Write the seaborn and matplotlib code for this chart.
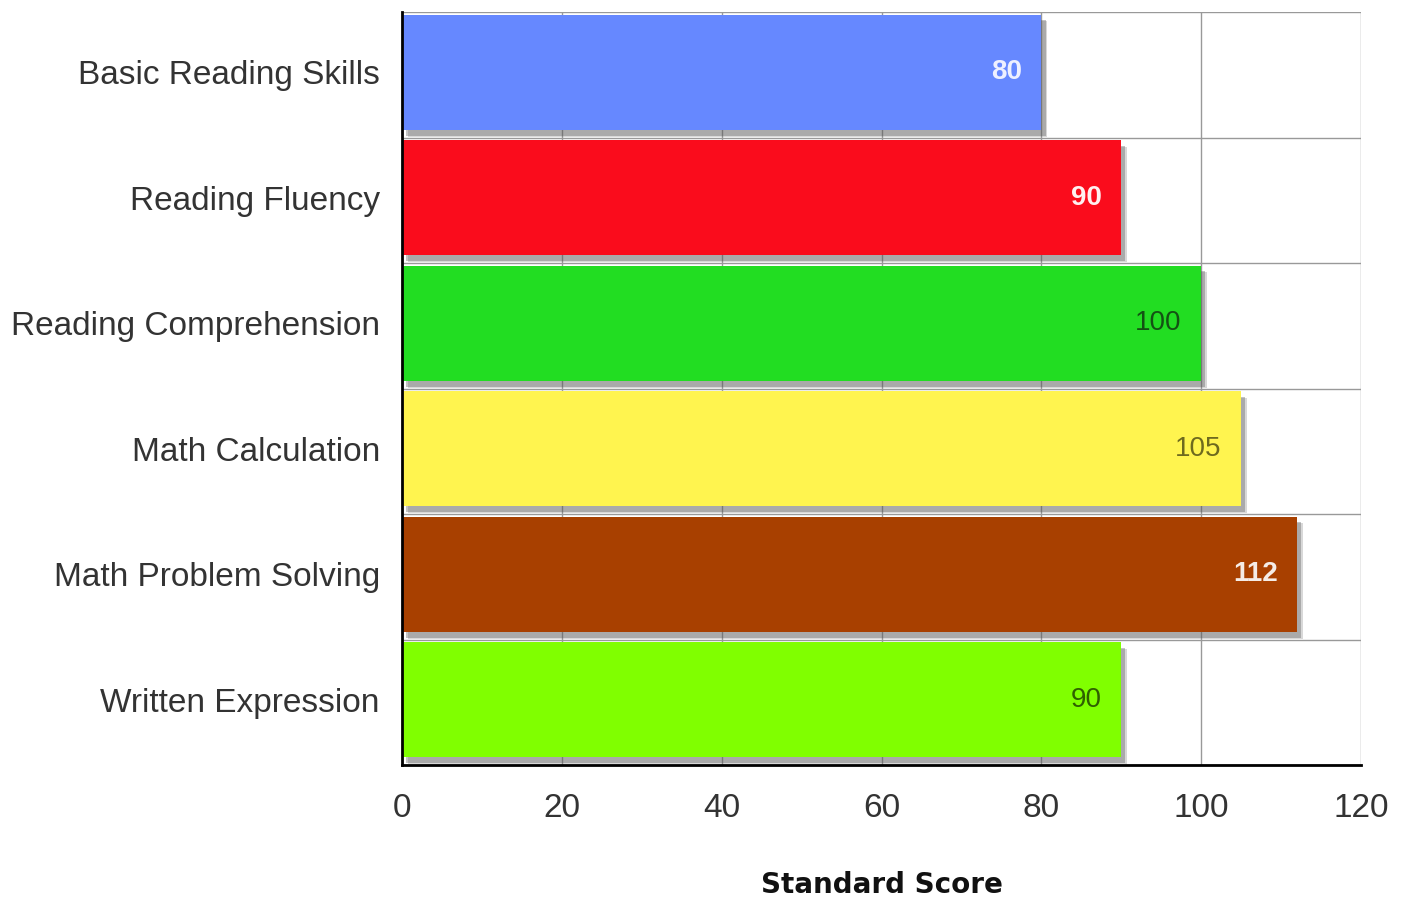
import pandas as pd
import matplotlib
matplotlib.use('Agg')
import matplotlib.pyplot as plt
import matplotlib.patheffects as pe
import seaborn as sns

# Chart data
categories = ['Basic Reading Skills', 'Reading Fluency', 'Reading Comprehension',
              'Math Calculation', 'Math Problem Solving', 'Written Expression']
scores = [80, 90, 100, 105, 112, 90]
bar_colors = ['#6688ff', '#fa0c1c', '#22dd22', '#fff44f', '#a84000', '#80ff00']
label_colors = ['#eef0ff', '#fff0f0', '#145214', '#6e6a1e', '#f5ece6', '#2f5f00']
label_bold = [True, True, False, False, True, False]
x_ticks = [0, 20, 40, 60, 80, 100, 120]

df = pd.DataFrame({'area': categories, 'score': scores})

sns.set_style('white')
plt.rcParams['font.family'] = ['Liberation Sans', 'DejaVu Sans']

fig = plt.figure(figsize=(14.08, 8.99), dpi=100)
ax = fig.add_axes([402 / 1408, 1 - 765 / 899, (1361 - 402) / 1408, (765 - 12) / 899])

sns.barplot(data=df, y='area', x='score', hue='area', palette=bar_colors,
            legend=False, width=0.92, saturation=1, ax=ax, zorder=3)

# soft drop shadow under each bar
for p in ax.patches:
    p.set_linewidth(0)
    p.set_path_effects([pe.SimplePatchShadow(offset=(4, -5), shadow_rgbFace='#666666', alpha=0.25),
                        pe.SimplePatchShadow(offset=(3, -4), shadow_rgbFace='#555555', alpha=0.35),
                        pe.Normal()])

for i, (v, c, b) in enumerate(zip(scores, label_colors, label_bold)):
    ax.annotate(f'{v}', (v, i), xytext=(-14, 0), textcoords='offset points',
                ha='right', va='center', fontsize=20, color=c,
                fontweight='bold' if b else 'normal', zorder=5)

# bars sit slightly above the middle of each band
shift = 0.02
ax.set_xlim(0, 120)
ax.set_ylim(5.5 + shift, -0.5 + shift)
ax.set_xticks(x_ticks)
ax.set_xticklabels([str(t) for t in x_ticks], fontsize=24, color='#333333')
ax.tick_params(axis='x', pad=20, length=0)
ax.tick_params(axis='y', labelsize=24, labelcolor='#333333', pad=16, length=0)
ax.set_yticks(range(len(categories)))
ax.set_yticks([i - 0.5 + shift for i in range(len(categories) + 1)], minor=True)
ax.tick_params(which='minor', length=0)

ax.grid(axis='x', color='#999999', linewidth=1, zorder=0)
ax.grid(axis='y', which='minor', color='#999999', linewidth=1, zorder=0)
ax.set_axisbelow(True)

for side in ['top', 'right']:
    ax.spines[side].set_visible(False)
ax.spines['left'].set_color('black')
ax.spines['left'].set_linewidth(2)
ax.spines['left'].set_zorder(6)
ax.spines['bottom'].set_color('black')
ax.spines['bottom'].set_linewidth(2)
ax.spines['bottom'].set_zorder(6)

ax.set_ylabel('')
ax.set_xlabel('Standard Score', fontsize=20, fontweight='bold', color='#111111',
              family='DejaVu Sans', labelpad=34)

fig.savefig('out.png', dpi=100)
